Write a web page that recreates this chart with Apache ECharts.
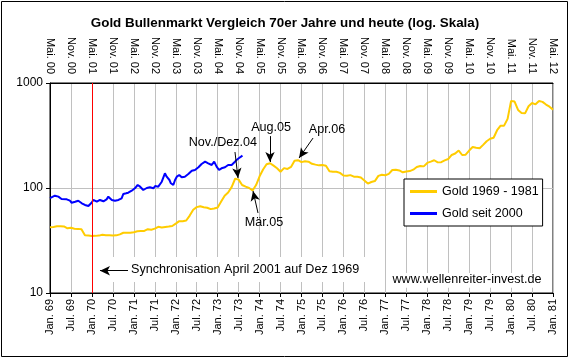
<!DOCTYPE html>
<html><head><meta charset="utf-8">
<script src="https://cdn.jsdelivr.net/npm/echarts@6/dist/echarts.min.js"></script>
<style>html,body{margin:0;padding:0;background:#fff}#c{width:570px;height:359px}</style>
</head><body><div id="c"></div>
<script>
// ---- tick labels ----
const bottomLabels = ['Jan. 69','Jul. 69','Jan. 70','Jul. 70','Jan. 71','Jul. 71','Jan. 72','Jul. 72','Jan. 73','Jul. 73','Jan. 74','Jul. 74','Jan. 75','Jul. 75','Jan. 76','Jul. 76','Jan. 77','Jul. 77','Jan. 78','Jul. 78','Jan. 79','Jul. 79','Jan. 80','Jul. 80','Jan. 81'];
const topLabels = ['Mai. 00','Nov. 00','Mai. 01','Nov. 01','Mai. 02','Nov. 02','Mai. 03','Nov. 03','Mai. 04','Nov. 04','Mai. 05','Nov. 05','Mai. 06','Nov. 06','Mai. 07','Nov. 07','Mai. 08','Nov. 08','Mai. 09','Nov. 09','Mai. 10','Nov. 10','Mai. 11','Nov. 11','Mai. 12'];
const yTicks = [10, 100, 1000];

// ---- series names ----
const seriesNames = ['Gold 1969 - 1981', 'Gold seit 2000'];

// ---- Gold 1969 - 1981, monthly from Jan 1969 (index = month) ----
const gold7081 = [
  42.3, 42.6, 43.2, 43.3, 43.0, 41.3, 41.8, 41.0, 40.8, 40.4, 35.4, 35.2,
  34.9, 35.0, 35.2, 35.8, 35.5, 35.4, 35.3, 35.4, 36.2, 37.5, 37.4, 37.4,
  37.9, 38.7, 38.9, 39.0, 40.5, 40.1, 41.0, 42.7, 42.0, 42.5, 42.9, 43.5,
  45.8, 48.3, 48.3, 49.0, 54.6, 62.1, 65.7, 67.0, 65.5, 64.9, 62.9, 63.9,
  65.1, 74.2, 84.4, 90.5, 102.0, 122.5, 120.2, 106.8, 103.0, 100.1, 94.8, 106.7,
  129.2, 150.2, 168.4, 172.2, 163.3, 154.1, 143.0, 154.6, 151.8, 158.8, 181.7, 183.9,
  176.3, 179.6, 178.0, 170.0, 167.0, 164.3, 165.2, 163.1, 144.3, 142.8, 142.8, 139.3,
  131.6, 130.8, 132.6, 128.2, 128.0, 125.7, 117.8, 110.2, 114.0, 116.4, 130.5, 133.6,
  132.3, 136.3, 148.3, 149.2, 147.0, 141.0, 143.4, 144.9, 149.4, 158.6, 162.2, 160.7,
  173.3, 178.2, 183.7, 175.4, 176.3, 183.3, 188.7, 206.4, 212.9, 227.3, 206.2, 207.8,
  227.3, 245.7, 242.1, 239.2, 257.6, 279.1, 294.7, 301.0, 355.1, 391.7, 392.5, 455.1,
  675.3, 665.3, 553.6, 517.4, 513.8, 600.7, 644.3, 626.5, 673.6, 661.1, 623.5, 594.9,
  557.6
];

// ---- Gold seit 2000: months since May 2000 (top axis) and values on chart scale ----
const blueMonths = [0, 0.5, 1.4, 2.4, 3.3, 4.8, 5.7, 6.2, 7.2, 8.1, 9.1, 10.0, 11.0, 11.5, 11.9, 12.4, 13.4, 14.3, 15.3, 16.2, 16.7, 17.2, 17.7, 18.6, 19.6, 20.5, 21.0, 21.8, 22.4, 23.4, 24.3, 25.1, 25.8, 26.7, 27.7, 28.6, 29.6, 30.1, 31.0, 32.0, 32.9, 33.4, 34.2, 34.6, 35.3, 35.8, 36.3, 37.0, 37.7, 38.6, 39.6, 40.6, 41.5, 42.5, 43.4, 44.4, 45.3, 46.3, 47.0, 47.7, 48.4, 49.1, 50.1, 51.0, 52.0, 52.8, 53.4, 54.4, 55.1];
const blueValues = [80.0, 82.7, 84.5, 82.7, 78.6, 78.0, 75.7, 72.4, 74.0, 75.7, 71.5, 68.9, 67.4, 70.4, 72.4, 76.9, 74.0, 76.9, 74.7, 78.0, 82.7, 82.7, 76.9, 75.7, 76.9, 79.8, 87.7, 89.0, 90.2, 94.3, 99.3, 106.8, 102.9, 95.7, 100.0, 101.5, 99.3, 104.5, 102.9, 114.8, 138.0, 128.2, 119.2, 110.9, 106.8, 119.2, 128.2, 133.0, 126.4, 128.2, 135.9, 146.2, 148.4, 157.5, 169.3, 178.2, 171.9, 165.6, 178.2, 159.6, 148.4, 154.0, 157.5, 165.6, 165.6, 175.7, 184.8, 196.1, 203.1];

// ---- sync marker (month index on the 1969 axis) ----
const syncMonth = 12;

// ---- annotation arrows [from, to] in data coordinates (month, price) ----
const arrows = [
  [[52.96, 220], [53.82, 124.5]],
  [[62.98, 312], [62.98, 177]],
  [[75.3, 299], [71.3, 193]],
  [[59.55, 57.8], [58.12, 93.6]],
  [[22.33, 16.3], [14.31, 16.3]]
];
const notes = [
  {text: 'Nov./Dez.04', at: [49.5, 274], align: 'center'},
  {text: 'Aug.05', at: [63.3, 373], align: 'center'},
  {text: 'Apr.06', at: [79.3, 357], align: 'center'},
  {text: 'Mär.05', at: [61.3, 46.4], align: 'center'},
  {text: 'Synchronisation April 2001 auf Dez 1969', at: [23.19, 16.6], align: 'left'},
  {text: 'www.wellenreiter-invest.de', at: [119.4, 13.3], align: 'center'}
];
const noteBoxes = [
  [[13.17, 22.0], [92.2, 12.7]],
  [[97.05, 15.5], [142.0, 11.2]]
];

const FONT = 'Arial, "Liberation Sans", sans-serif';
const chart = echarts.init(document.getElementById('c'), null, {renderer: 'canvas'});

const option = {
  animation: false,
  backgroundColor: '#fff',
  title: {
    text: 'Gold Bullenmarkt Vergleich 70er Jahre und heute (log. Skala)',
    left: 'center', top: 17, padding: 0,
    textStyle: {fontFamily: FONT, fontSize: 13.4, fontWeight: 'bold', color: '#000'}
  },
  grid: {left: 50, right: 17, top: 83, bottom: 66, show: true, backgroundColor: '#fff', borderColor: '#000', borderWidth: 1},
  legend: {
    data: seriesNames.map(n => ({name: n, icon: 'rect'})), orient: 'vertical', left: 404, top: 179,
    padding: [5, 4, 5, 6], itemWidth: 27, itemHeight: 3, itemGap: 7,
    backgroundColor: '#fff', borderColor: '#000', borderWidth: 1, borderRadius: 0,
    textStyle: {fontFamily: FONT, fontSize: 12.5, color: '#000', lineHeight: 15}
  },
  xAxis: [
    {
      type: 'value', position: 'bottom', min: 0, max: 144, interval: 6,
      axisLine: {onZero: false, lineStyle: {color: '#000', width: 1}},
      axisTick: {show: true, length: 4, lineStyle: {color: '#000'}},
      axisLabel: {rotate: 90, fontFamily: FONT, fontSize: 11, color: '#000', margin: 6,
        formatter: v => bottomLabels[Math.round(v / 6)] || ''},
      splitLine: {show: true, lineStyle: {color: '#C0C0C0', width: 1}}
    },
    {
      type: 'value', position: 'top', min: 0, max: 144, interval: 6,
      axisLine: {onZero: false, lineStyle: {color: '#000', width: 1}},
      axisTick: {show: false},
      axisLabel: {rotate: 90, fontFamily: FONT, fontSize: 11, color: '#000', margin: 9,
        formatter: v => topLabels[Math.round(v / 6)] || ''},
      splitLine: {show: false}
    }
  ],
  yAxis: {
    type: 'log', logBase: 10, min: yTicks[0], max: yTicks[yTicks.length - 1],
    axisLine: {show: true, lineStyle: {color: '#000'}},
    axisTick: {show: true, length: 4, lineStyle: {color: '#000'}},
    axisLabel: {fontFamily: FONT, fontSize: 12, color: '#000', margin: 7, formatter: v => String(Math.round(v))},
    splitLine: {show: true, lineStyle: {color: '#C0C0C0', width: 1}},
    minorTick: {show: false}, minorSplitLine: {show: false}
  },
  series: [
    {
      name: seriesNames[0], type: 'line', xAxisIndex: 0, yAxisIndex: 0,
      data: gold7081.map((v, i) => [i, v]),
      symbol: 'none', lineStyle: {color: '#FFCC00', width: 2}, itemStyle: {color: '#FFCC00'},
      z: 3,
      markLine: {
        silent: true, symbol: ['none', 'arrow'], symbolSize: [7, 10],
        label: {show: false},
        lineStyle: {color: '#000', width: 1, type: 'solid'},
        data: arrows.map(a => [{coord: a[0]}, {coord: a[1]}])
      }
    },
    {
      name: seriesNames[1], type: 'line', xAxisIndex: 1, yAxisIndex: 0,
      data: blueMonths.map((m, i) => [m, blueValues[i]]),
      symbol: 'none', lineStyle: {color: '#0000FF', width: 2}, itemStyle: {color: '#0000FF'},
      z: 3,
      markLine: {
        silent: true, symbol: ['none', 'none'], label: {show: false},
        lineStyle: {color: '#FF0000', width: 1, type: 'solid'},
        data: [{xAxis: syncMonth}]
      }
    }
  ]
};
chart.setOption(option);

const px = (p) => chart.convertToPixel({xAxisIndex: 0, yAxisIndex: 0}, p);
const g = [];
noteBoxes.forEach(b => {
  const p1 = px(b[0]), p2 = px(b[1]);
  g.push({type: 'rect', z: 1, silent: true,
    shape: {x: Math.min(p1[0], p2[0]), y: Math.min(p1[1], p2[1]), width: Math.abs(p2[0] - p1[0]), height: Math.abs(p2[1] - p1[1])},
    style: {fill: '#fff'}});
});
notes.forEach(n => {
  const p = px(n.at);
  g.push({type: 'text', z: 10, x: p[0], y: p[1], silent: true,
    style: {text: n.text, fill: '#000', font: '12.6px ' + FONT, align: n.align, verticalAlign: 'middle', textAlign: n.align, textVerticalAlign: 'middle'}});
});
g.push({type: 'rect', z: 10, silent: true, shape: {x: 1.5, y: 1.5, width: 566, height: 355}, style: {fill: 'none', stroke: '#000', lineWidth: 1}});
chart.setOption({graphic: g});
</script>
</body></html>
